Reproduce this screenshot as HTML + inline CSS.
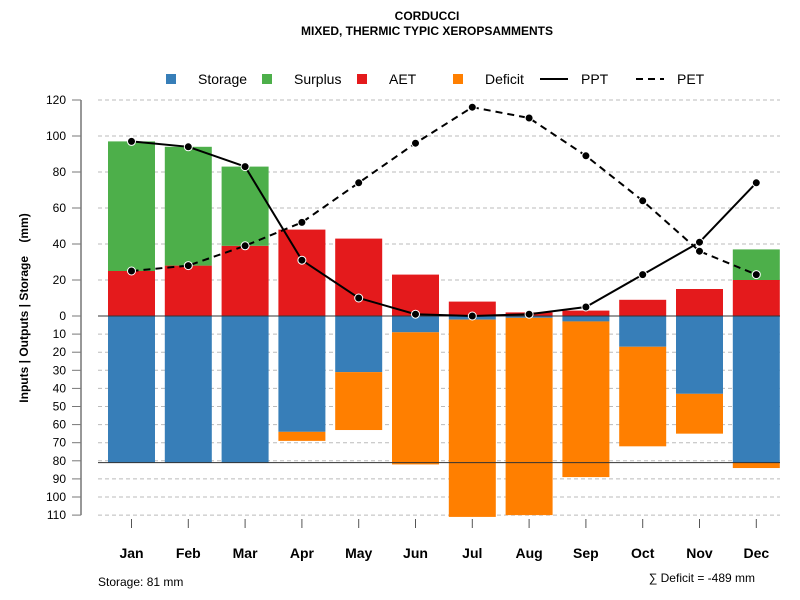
<!DOCTYPE html>
<html><head><meta charset="utf-8"><style>
body{margin:0;background:#fff;}
svg{font-family:"Liberation Sans",Arial,sans-serif;display:block}
</style></head><body>
<svg id="chart" width="800" height="600">
<text x="427" y="20" text-anchor="middle" font-size="12" font-weight="bold">CORDUCCI</text>
<text x="427" y="35" text-anchor="middle" font-size="12" font-weight="bold">MIXED, THERMIC TYPIC XEROPSAMMENTS</text>
<g id="legend" font-size="14">
<g><rect x="166" y="74" width="10" height="10" fill="#377eb8"/><text x="198" y="84">Storage</text></g>
<g><rect x="262" y="74" width="10" height="10" fill="#4daf4a"/><text x="294" y="84">Surplus</text></g>
<g><rect x="357" y="74" width="10" height="10" fill="#e41a1c"/><text x="389" y="84">AET</text></g>
<g><rect x="453" y="74" width="10" height="10" fill="#ff7f00"/><text x="485" y="84">Deficit</text></g>
<g><line x1="540" y1="79" x2="568" y2="79" stroke="#000" stroke-width="2"/><text x="581" y="84">PPT</text></g>
<g><line x1="636" y1="79" x2="664" y2="79" stroke="#000" stroke-width="2" stroke-dasharray="7,5"/><text x="677" y="84">PET</text></g>
</g>
<text transform="translate(28,308) rotate(-90)" text-anchor="middle" font-size="12" font-weight="bold">Inputs | Outputs | Storage&#160;&#160;&#160;&#160;(mm)</text>
<g id="grid"></g><g id="bars"></g><g id="axes"></g><g id="lines"></g>
<text x="98" y="586" font-size="12">Storage: 81 mm</text>
<text x="755" y="582" text-anchor="end" font-size="12">∑ Deficit = -489 mm</text>
</svg>
<script>
const months=["Jan","Feb","Mar","Apr","May","Jun","Jul","Aug","Sep","Oct","Nov","Dec"];
const aet=[25,28,39,48,43,23,8,2,3,9,15,20];
const surplus=[72,66,44,0,0,0,0,0,0,0,0,17];
const storage=[81,81,81,64,31,9,2,1,3,17,43,81];
const deficit=[0,0,0,5,32,73,109,109,86,55,22,3];
const ppt=[97,94,83,31,10,1,0,1,5,23,41,74];
const pet=[25,28,39,52,74,96,116,110,89,64,36,23];
const upTicks=[0,20,40,60,80,100,120];
const downTicks=[10,20,30,40,50,60,70,80,90,100,110];
const storageMax=81;
const NS="http://www.w3.org/2000/svg";
const y0=316,k=1.8;
const yU=v=>y0-v*k, yD=v=>y0+v*1.81;
const xC=i=>131.5+i*56.8, bw=47;
function mk(t,p,a){const e=document.createElementNS(NS,t);for(const q in a)e.setAttribute(q,a[q]);p.appendChild(e);return e;}
const grid=document.getElementById('grid'),bars=document.getElementById('bars'),axes=document.getElementById('axes'),lines=document.getElementById('lines');
upTicks.forEach(v=>{if(v===0)return;const l=mk('line',grid,{x1:98,x2:780,y1:yU(v),y2:yU(v),stroke:'#bbb','stroke-dasharray':'4,3'});

});
downTicks.forEach(v=>{const l=mk('line',grid,{x1:98,x2:780,y1:yD(v),y2:yD(v),stroke:'#bbb','stroke-dasharray':'4,3'});

});
months.forEach((m,i)=>{const x=xC(i)-bw/2;
const segs=[['aet',yU(aet[i]),aet[i]*k,'#e41a1c'],['surplus',yU(aet[i]+surplus[i]),surplus[i]*k,'#4daf4a'],['storage',y0,storage[i]*1.81,'#377eb8'],['deficit',yD(storage[i]),deficit[i]*1.81,'#ff7f00']];
segs.forEach(s=>{if(s[2]<=0)return;const r=mk('rect',bars,{x:x,y:s[1],width:bw,height:s[2],fill:s[3]});

});
const t=mk('line',axes,{x1:xC(i),x2:xC(i),y1:519,y2:528,stroke:'#555'});


const tx=mk('text',axes,{x:xC(i),y:558,'text-anchor':'middle','font-size':14,'font-weight':'bold'});tx.textContent=m;

});
let l=mk('line',axes,{x1:98,x2:780,y1:y0,y2:y0,stroke:'#333'});


l=mk('line',axes,{x1:98,x2:780,y1:yD(storageMax),y2:yD(storageMax),stroke:'#333'});


l=mk('line',axes,{x1:81,x2:81,y1:yU(120),y2:yD(110),stroke:'#777','stroke-width':1.5});


function ytick(v,y,nm){const t=mk('line',axes,{x1:72,x2:81,y1:y,y2:y,stroke:'#777'});


const tx=mk('text',axes,{x:66,y:y+4,'text-anchor':'end','font-size':12});tx.textContent=v;

}
upTicks.forEach(v=>ytick(v,yU(v),'up-'+v));
downTicks.forEach(v=>ytick(v,yD(v),'down-'+v));
function series(arr,nm,dash){const d=arr.map((v,i)=>(i?'L':'M')+xC(i)+','+yU(v)).join('');
const p=mk('path',lines,{d:d,fill:'none',stroke:'#000','stroke-width':2});if(dash)p.setAttribute('stroke-dasharray','7,5');


arr.forEach((v,i)=>{const c=mk('circle',lines,{cx:xC(i),cy:yU(v),r:4,fill:'#000',stroke:'#fff','stroke-width':1});

});}
series(ppt,'ppt',false);series(pet,'pet',true);
</script>
</body></html>
